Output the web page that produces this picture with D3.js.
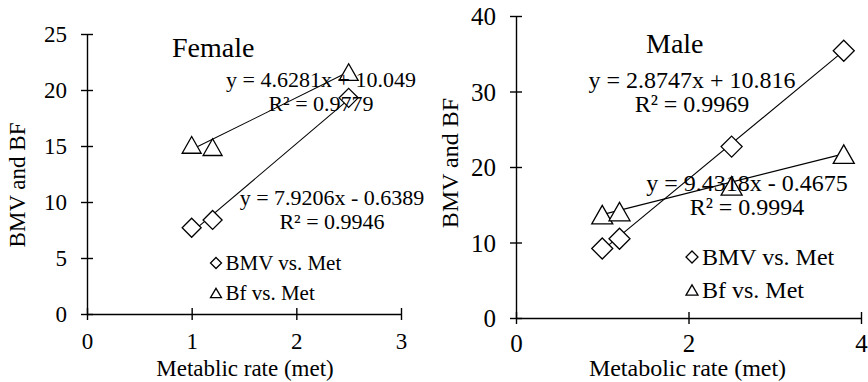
<!DOCTYPE html>
<html lang="en">
<head>
  <meta charset="UTF-8">
  <title>BMV and BF vs metabolic rate</title>
  <script src="https://d3js.org/d3.v7.min.js"></script>
  <style>
    body, html {
      margin: 0;
      padding: 0;
      background: #fff;
      overflow: hidden;
    }
    svg {
      display: block;
      font-family: "Liberation Serif", "Times New Roman", serif;
    }
    .axis path, .axis line {
      stroke: #000;
      stroke-width: 1.4px;
    }
    .trend {
      stroke: #000;
      stroke-width: 1.1px;
      fill: none;
    }
    .marker {
      fill: #fff;
      stroke: #000;
      stroke-width: 1.3px;
    }
  </style>
</head>
<body>
  <svg id="chart" width="868" height="382"></svg>

  <script>
    // ---- data ----
    const femaleMet = [1, 1.2, 2.5];
    const femaleBMV = [7.7, 8.4, 19.3];
    const femaleBf = [15.1, 14.9, 21.6];

    const maleMet = [1, 1.2, 2.5, 3.8];
    const maleBMV = [9.2, 10.5, 22.7, 35.4];
    const maleBf = [13.7, 14.1, 17.5, 21.7];

    // trendline coefficients [slope, intercept] as printed on the chart
    const femaleBMVFit = [7.9206, -0.6389];
    const femaleBfFit = [4.6281, 10.049];
    const maleBMVFit = [9.4318, -0.4675];
    const maleBfFit = [2.8747, 10.816];

    const femaleXTicks = [0, 1, 2, 3];
    const femaleYTicks = [0, 5, 10, 15, 20, 25];
    const maleXTicks = [0, 2, 4];
    const maleYTicks = [0, 10, 20, 30, 40];

    const legendLabels = ["BMV vs. Met", "Bf vs. Met"];

    const svg = d3.select("#chart");

    // diamond / triangle paths centred on 0,0
    function diamond(w) {
      const h = w / 2;
      return `M0,${-h}L${h},0L0,${h}L${-h},0Z`;
    }
    function triangle(w, ht) {
      return `M0,${-ht / 2}L${w / 2},${ht / 2}L${-w / 2},${ht / 2}Z`;
    }

    function drawPanel(cfg) {
      const g = svg.append("g");
      const x = d3.scaleLinear().domain(cfg.xDomain).range(cfg.xRange);
      const y = d3.scaleLinear().domain(cfg.yDomain).range(cfg.yRange);

      // y axis with crossing ticks
      g.append("g")
        .attr("class", "axis")
        .attr("transform", `translate(${cfg.xRange[0]},0)`)
        .call(d3.axisLeft(y).tickValues(cfg.yTicks).tickFormat(d3.format("d"))
          .tickSizeInner(6).tickSizeOuter(0))
        .call(a => a.selectAll(".tick line").attr("x1", -6).attr("x2", 6))
        .call(a => a.selectAll(".tick text")
          .attr("x", cfg.yLabelOff).attr("dy", "0.34em")
          .attr("font-size", cfg.tickSize).attr("font-family", "Liberation Serif").attr("fill", "#000"));

      // x axis with crossing ticks
      g.append("g")
        .attr("class", "axis")
        .attr("transform", `translate(0,${cfg.yRange[0]})`)
        .call(d3.axisBottom(x).tickValues(cfg.xTicks).tickFormat(d3.format("d"))
          .tickSizeInner(6).tickSizeOuter(0))
        .call(a => a.selectAll(".tick line").attr("y1", -6).attr("y2", 6))
        .call(a => a.selectAll(".tick text")
          .attr("y", cfg.xLabelOff).attr("dy", 0)
          .attr("font-size", cfg.tickSize).attr("font-family", "Liberation Serif").attr("fill", "#000"));

      // trendlines, drawn across the data range
      const xMin = d3.min(cfg.met), xMax = d3.max(cfg.met);
      [cfg.bmvFit, cfg.bfFit].forEach(fit => {
        g.append("line")
          .attr("class", "trend")
          .attr("x1", x(xMin)).attr("y1", y(fit[0] * xMin + fit[1]))
          .attr("x2", x(xMax)).attr("y2", y(fit[0] * xMax + fit[1]));
      });

      // markers
      g.selectAll(".bmv")
        .data(cfg.met.map((m, i) => [m, cfg.bmv[i]]))
        .join("path")
        .attr("class", "marker bmv")
        .attr("d", diamond(cfg.markSize))
        .attr("transform", d => `translate(${x(d[0])},${y(d[1])})`);

      g.selectAll(".bf")
        .data(cfg.met.map((m, i) => [m, cfg.bf[i]]))
        .join("path")
        .attr("class", "marker bf")
        .attr("d", triangle(cfg.markSize, cfg.markSize * 0.88))
        .attr("transform", d => `translate(${x(d[0])},${y(d[1])})`);

      // equation labels
      cfg.eqs.forEach(e => {
        const t = g.append("text")
          .attr("text-anchor", "middle")
          .attr("font-size", cfg.eqSize);
        t.append("tspan").attr("x", e.cx).attr("y", e.y).text(e.lines[0]);
        t.append("tspan").attr("x", e.cx).attr("y", e.y + cfg.eqGap).text(e.lines[1]);
      });

      // title
      g.append("text")
        .attr("x", cfg.title.x).attr("y", cfg.title.y)
        .attr("font-size", 28)
        .text(cfg.title.text);

      // axis titles
      g.append("text")
        .attr("x", (cfg.xRange[0] + cfg.xRange[1]) / 2 + cfg.xTitle.dx)
        .attr("y", cfg.xTitle.y)
        .attr("text-anchor", "middle")
        .attr("font-size", cfg.axisTitleSize)
        .text(cfg.xTitle.text);

      g.append("text")
        .attr("transform", `translate(${cfg.yTitle.x},${cfg.yTitle.cy}) rotate(-90)`)
        .attr("text-anchor", "middle")
        .attr("font-size", cfg.axisTitleSize)
        .text("BMV and BF");

      // legend
      const lg = g.append("g").attr("transform", `translate(${cfg.legend.x},${cfg.legend.y})`);
      legendLabels.forEach((lab, i) => {
        lg.append("path")
          .attr("class", "marker")
          .attr("stroke-width", 1.1)
          .attr("d", i === 0 ? diamond(cfg.legend.mark) : triangle(cfg.legend.mark, cfg.legend.mark * 0.85))
          .attr("transform", `translate(0,${i * cfg.legend.gap})`);
        lg.append("text")
          .attr("x", cfg.legend.mark / 2 + 4)
          .attr("y", i * cfg.legend.gap)
          .attr("dy", "0.34em")
          .attr("font-size", cfg.legend.size)
          .text(lab);
      });
    }

    drawPanel({
      xDomain: [0, 3], xRange: [87, 401],
      yDomain: [0, 25], yRange: [314, 34],
      xTicks: femaleXTicks, yTicks: femaleYTicks,
      tickSize: 23, yLabelOff: -20, xLabelOff: 35,
      met: femaleMet, bmv: femaleBMV, bf: femaleBf,
      bmvFit: femaleBMVFit, bfFit: femaleBfFit,
      markSize: 19,
      eqSize: 22, eqGap: 24,
      eqs: [
        { cx: 321, y: 87, lines: ["y = 4.6281x + 10.049", "R² = 0.9779"] },
        { cx: 332, y: 205, lines: ["y = 7.9206x - 0.6389", "R² = 0.9946"] }
      ],
      title: { text: "Female", x: 172, y: 57 },
      axisTitleSize: 23,
      xTitle: { text: "Metablic rate (met)", y: 376, dx: 1 },
      yTitle: { x: 25, cy: 185 },
      legend: { x: 216, y: 263, gap: 30, mark: 11, size: 21 }
    });

    drawPanel({
      xDomain: [0, 4], xRange: [516, 861],
      yDomain: [0, 40], yRange: [318, 16],
      xTicks: maleXTicks, yTicks: maleYTicks,
      tickSize: 25, yLabelOff: -20, xLabelOff: 34,
      met: maleMet, bmv: maleBMV, bf: maleBf,
      bmvFit: maleBMVFit, bfFit: maleBfFit,
      markSize: 21,
      eqSize: 24, eqGap: 24,
      eqs: [
        { cx: 692, y: 88, lines: ["y = 2.8747x + 10.816", "R² = 0.9969"] },
        { cx: 747, y: 191, lines: ["y = 9.4318x - 0.4675", "R² = 0.9994"] }
      ],
      title: { text: "Male", x: 646, y: 53 },
      axisTitleSize: 24,
      xTitle: { text: "Metabolic rate (met)", y: 376, dx: -1 },
      yTitle: { x: 458, cy: 163 },
      legend: { x: 692, y: 257, gap: 33, mark: 12, size: 24 }
    });
  </script>
</body>
</html>
